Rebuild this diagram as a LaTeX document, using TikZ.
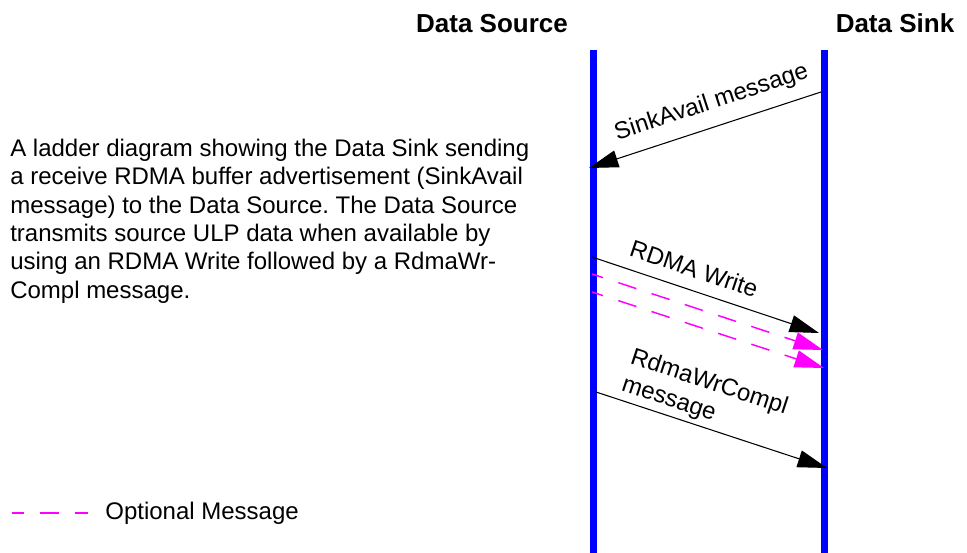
\documentclass[tikz,border=0pt]{standalone}
\usepackage{fontspec}
\setmainfont{Liberation Sans}
\usetikzlibrary{arrows.meta,positioning}
\definecolor{lifeblue}{HTML}{0000FF}
\definecolor{optmagenta}{HTML}{FF00FF}
\frenchspacing

\begin{document}
\begin{tikzpicture}[
  x=0.75pt, y=-0.75pt,
  font=\fontsize{18}{21.2}\selectfont,
  titletext/.style={font=\fontsize{19.5}{23}\selectfont\bfseries, anchor=base},
  lifeline/.style={lifeblue, line width=5.25pt},
  msg/.style={-{Triangle[length=22pt, width=13pt]}, line width=0.8pt, black},
  optline/.style={line width=1.1pt, optmagenta, dash pattern=on 14.25pt off 12pt, dash phase=5.5pt},
  optmsg/.style={optline, -{Triangle[length=22pt, width=13pt]}},
  msglabel/.style={sloped, inner sep=2pt}
]
\useasboundingbox (0,0) rectangle (967,553);
\node[titletext] (srcTitle) at (492,32) {Data Source};
\node[titletext] (sinkTitle) at (895,32) {Data Sink};
\node[anchor=base west, align=left, inner sep=0pt] (desc) at (10,298) {A ladder diagram showing the Data Sink sending\\a receive RDMA buffer advertisement (SinkAvail\\message) to the Data Source. The Data Source\\transmits source ULP data when available by\\using an RDMA Write followed by a RdmaWr-\\Compl message.};
% lifelines
\coordinate (srcTop) at (593,50);
\coordinate (srcBot) at (593,553);
\coordinate (sinkTop) at (824,50);
\coordinate (sinkBot) at (824,553);
\draw[lifeline] (srcTop) -- (srcBot);
\draw[lifeline] (sinkTop) -- (sinkBot);
% message end points
\coordinate (availStart) at (821,92);
\coordinate (availEnd) at (589,168);
\coordinate (writeStart) at (592,257);
\coordinate (writeEnd) at (819,333);
\coordinate (optAStart) at (592,274);
\coordinate (optAEnd) at (823,350);
\coordinate (optBStart) at (592,292);
\coordinate (optBEnd) at (824,368);
\coordinate (complStart) at (596,392);
\coordinate (complEnd) at (827,468);
\draw[msg] (availStart) -- (availEnd) node[msglabel, pos=0.44, above=7pt] {SinkAvail message};
\draw[msg] (writeStart) -- (writeEnd) node[msglabel, pos=0.42, above=7pt] {RDMA Write};
\draw[optmsg] (optAStart) -- (optAEnd);
\draw[optmsg] (optBStart) -- (optBEnd);
\draw[msg] (complStart) -- (complEnd) node[msglabel, pos=0.43, above=1pt, align=left] {RdmaWrCompl\\message};
% legend
\coordinate (legStart) at (12,513);
\coordinate (legEnd) at (88,513);
\draw[optline] (legStart) -- (legEnd);
\node[right=9.5pt of legEnd] (legText) {Optional Message};
\end{tikzpicture}
\end{document}
